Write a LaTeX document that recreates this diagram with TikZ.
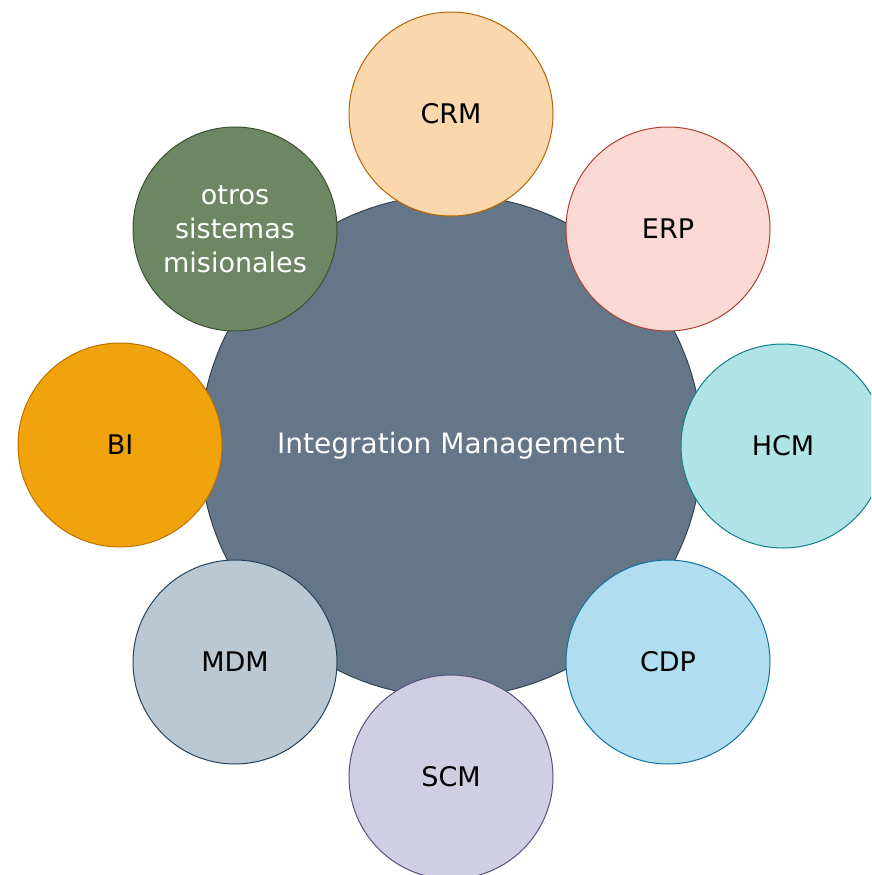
\documentclass[tikz,border=0pt]{standalone}
\usepackage{fontspec}
\setmainfont{DejaVu Sans}
\definecolor{cenF}{HTML}{647687}\definecolor{cenD}{HTML}{314354}
\definecolor{crmF}{HTML}{FAD7AC}\definecolor{crmD}{HTML}{B46504}
\definecolor{erpF}{HTML}{FAD9D5}\definecolor{erpD}{HTML}{AE4132}
\definecolor{hcmF}{HTML}{B0E3E6}\definecolor{hcmD}{HTML}{0E8088}
\definecolor{cdpF}{HTML}{B1DDF0}\definecolor{cdpD}{HTML}{10739E}
\definecolor{scmF}{HTML}{D0CEE2}\definecolor{scmD}{HTML}{56517E}
\definecolor{mdmF}{HTML}{BAC8D3}\definecolor{mdmD}{HTML}{23445D}
\definecolor{biF}{HTML}{F0A30A}\definecolor{biD}{HTML}{BD7000}
\definecolor{otrF}{HTML}{6D8764}\definecolor{otrD}{HTML}{3A5431}
\tikzset{
  sat/.style 2 args={circle, minimum size=204pt, inner sep=0pt, fill=#1, draw=#2, line width=1pt, text=black, font=\fontsize{27}{34}\selectfont, align=center},
  hub/.style={circle, minimum size=502pt, inner sep=0pt, fill=cenF, draw=cenD, line width=1pt, text=white, font=\fontsize{28}{34}\selectfont}
}
\begin{document}
\begin{tikzpicture}[x=1pt,y=-1pt]
\useasboundingbox (0,0) rectangle (871,875);
\begin{scope}
\clip (0,0) rectangle (871,875);
\node[hub] (hub) at (451,446) {Integration Management};
\node[sat={crmF}{crmD}] (crm) at (451,114) {CRM};
\node[sat={erpF}{erpD}] (erp) at (668,229) {ERP};
\node[sat={hcmF}{hcmD}] (hcm) at (783,446) {HCM};
\node[sat={cdpF}{cdpD}] (cdp) at (668,662) {CDP};
\node[sat={scmF}{scmD}] (scm) at (451,777) {SCM};
\node[sat={mdmF}{mdmD}] (mdm) at (235,662) {MDM};
\node[sat={biF}{biD}] (bi) at (120,445) {BI};
\node[sat={otrF}{otrD}, text=white] (otr) at (235,229) {otros\\sistemas\\misionales};
\end{scope}
\end{tikzpicture}
\end{document}
